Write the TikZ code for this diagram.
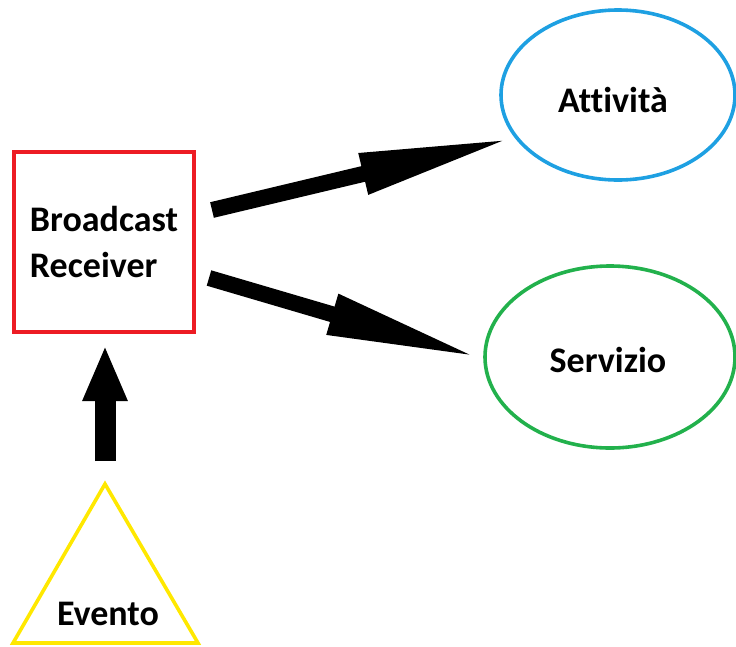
\documentclass[tikz,border=0pt]{standalone}
\usepackage{fontspec}
\setmainfont{Carlito}[Ligatures=NoCommon]
\usetikzlibrary{arrows.meta,shapes.geometric}
\definecolor{boxred}{RGB}{237,28,36}
\definecolor{actblue}{RGB}{30,160,226}
\definecolor{srvgreen}{RGB}{34,177,76}
\definecolor{evtyellow}{RGB}{255,232,0}
\tikzset{
  x=1pt, y=-1pt,
  label/.style={font=\fontsize{36}{46}\selectfont\bfseries, text=black},
  blockarrow/.style={draw=black, line width=16pt,
    -{Triangle[length=155pt, width=38pt]}},
  uparrow/.style={draw=black, line width=21pt,
    -{Triangle[length=56pt, width=41pt]}}
}
\begin{document}
\begin{tikzpicture}
  \useasboundingbox (0,0) rectangle (736,646);

  % receiver box
  \node[label, draw=boxred, line width=3.6pt, minimum width=180pt,
        minimum height=180pt, inner sep=0pt, align=left]
        (br) at (104,242) {Broadcast\\Receiver};

  % targets
  \node[label, ellipse, draw=actblue, line width=3.6pt, minimum width=234pt,
        minimum height=170pt, inner sep=0pt] (att) at (618,95) {};
  \node[label] (attlbl) at (613,100) {Attività};
  \node[label, ellipse, draw=srvgreen, line width=3.6pt, minimum width=250pt,
        minimum height=182pt, inner sep=0pt] (srv) at (610,357) {};
  \node[label] (srvlbl) at (608,360) {Servizio};

  % event triangle
  \coordinate (evtop) at (105,484);
  \coordinate (evl) at (13,643);
  \coordinate (evr) at (198,643);
  \draw[evtyellow, line width=3.6pt, line join=miter] (evtop) -- (evr) -- (evl) -- cycle;
  \node[label, anchor=base] (evento) at (108,625) {Evento};

  % connectors
  \coordinate (a1s) at (212,210);
  \coordinate (a1e) at (514,138);
  \draw[blockarrow] (a1s) -- (a1e);
  \coordinate (a2s) at (209,278);
  \coordinate (a2e) at (481,358);
  \draw[blockarrow] (a2s) -- (a2e);
  \coordinate (a3s) at (105,461);
  \coordinate (a3e) at (105,345);
  \draw[uparrow] (a3s) -- (a3e);
\end{tikzpicture}
\end{document}
